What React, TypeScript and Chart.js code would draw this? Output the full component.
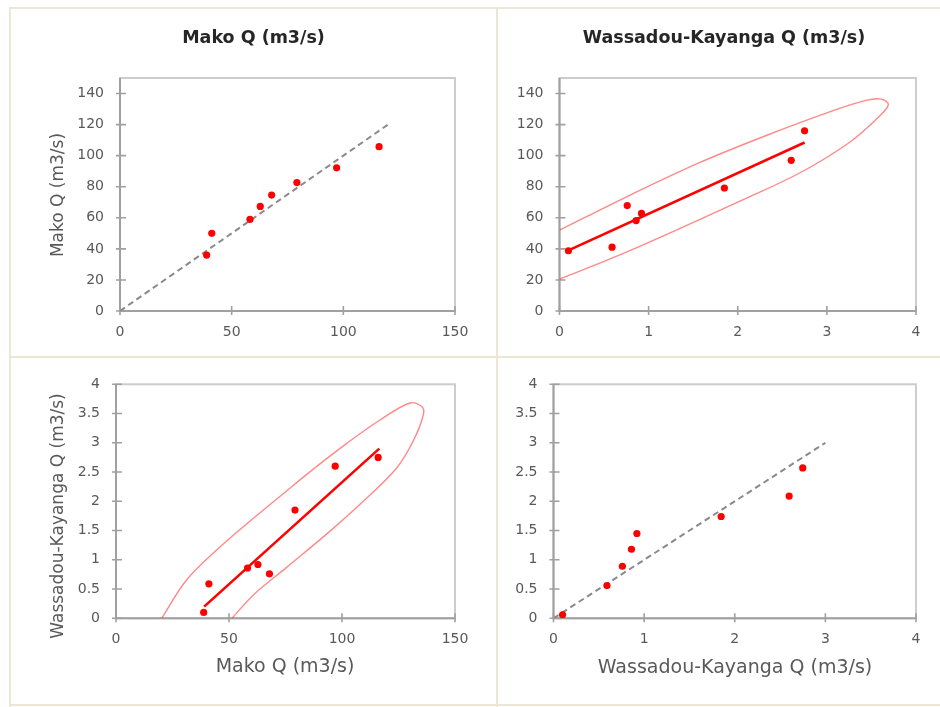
import React, { useEffect, useRef } from 'react';
import { Chart, registerables } from 'chart.js';
Chart.register(...registerables);

// ---- data ----
const makoObs = [38.8, 41.1, 58.2, 62.8, 67.9, 79.2, 97, 116];
const wassadouObs = [0.1, 0.59, 0.86, 0.92, 0.76, 1.85, 2.6, 2.75];
const makoEst = [36, 50, 59, 67.3, 74.6, 82.7, 92.2, 105.8];
const wassadouEst = [0.06, 0.56, 1.18, 1.45, 0.89, 1.74, 2.09, 2.57];

const makoTicks = [0, 20, 40, 60, 80, 100, 120, 140];
const makoXTicks = [0, 50, 100, 150];
const wassadouTicks = [0, 0.5, 1, 1.5, 2, 2.5, 3, 3.5, 4];
const wassadouXTicks = [0, 1, 2, 3, 4];

const makoOneToOne = [0, 120];
const wassadouOneToOne = [0, 3];

const fitWM_x = [0.1, 2.75];
const fitWM_y = [39, 108.5];
const fitMW_x = [39, 116.5];
const fitMW_y = [0.2, 2.9];

const ellipseWM_x = [0, 0.5, 0.9, 1.57, 2.0, 2.7, 3.26, 3.6, 3.69, 3.61, 3.44, 3.07, 2.32, 1.57, 0.77, 0];
const ellipseWM_y = [20.5, 31.9, 41.6, 58.8, 70.1, 89, 108.8, 126, 133, 136.4, 135.6, 129, 113, 95.5, 74, 52];

const ellipseMW_x = [51.3, 60.8, 75.5, 94.7, 109.4, 124.2, 131.5, 136, 135.3, 130.1, 116.8, 102.1, 87.3, 74, 60.8, 46, 31.3, 20.2];
const ellipseMW_y = [0, 0.4, 0.87, 1.49, 2.0, 2.57, 3.03, 3.48, 3.62, 3.68, 3.39, 2.99, 2.55, 2.13, 1.71, 1.22, 0.66, 0];

const TITLE_MAKO = 'Mako Q (m3/s)';
const TITLE_WASS = 'Wassadou-Kayanga Q (m3/s)';

const zip = (xs: number[], ys: number[]) => xs.map((x, i) => ({ x, y: ys[i] }));

const RED = '#ff0000';
const pointsDs = (xs: number[], ys: number[]) => ({
  data: zip(xs, ys),
  showLine: false,
  pointRadius: 3.6,
  pointBackgroundColor: RED,
  pointBorderColor: RED,
  pointBorderWidth: 0,
});
const dashedDs = (vals: number[]) => ({
  data: zip(vals, vals),
  showLine: true,
  pointRadius: 0,
  borderColor: '#8a8a8a',
  borderWidth: 2,
  borderDash: [6, 4],
});
const fitDs = (xs: number[], ys: number[]) => ({
  data: zip(xs, ys),
  showLine: true,
  pointRadius: 0,
  borderColor: RED,
  borderWidth: 2.6,
});
const ellipseDs = (xs: number[], ys: number[]) => ({
  data: zip(xs, ys),
  showLine: true,
  pointRadius: 0,
  borderColor: 'rgba(255,40,40,0.55)',
  borderWidth: 1.4,
  tension: 0.35,
});

type TextItem = { text: string; x: number; y: number; font: string; color: string; rotate?: boolean };

const titleFont = 'bold 17.5px "DejaVu Sans"';
const xTitleFont = '19px "DejaVu Sans"';
const yTitleFont = '17px "DejaVu Sans"';
const TITLE_COLOR = '#262626';
const AXIS_COLOR = '#595959';

const panels = [
  {
    canvas: { x: 10, y: 7, w: 487, h: 350 },
    plot: { l: 120, r: 455, t: 78, b: 311 },
    x: { min: 0, max: 150, ticks: makoXTicks },
    y: { min: 0, max: 150, ticks: makoTicks },
    datasets: [pointsDs(makoObs, makoEst), dashedDs(makoOneToOne)],
    texts: [
      { text: TITLE_MAKO, x: 253.5, y: 38, font: titleFont, color: TITLE_COLOR },
      { text: TITLE_MAKO, x: 58.5, y: 195, font: yTitleFont, color: AXIS_COLOR, rotate: true },
    ] as TextItem[],
  },
  {
    canvas: { x: 497, y: 7, w: 443, h: 350 },
    plot: { l: 559.5, r: 916, t: 78, b: 311 },
    x: { min: 0, max: 4, ticks: wassadouXTicks },
    y: { min: 0, max: 150, ticks: makoTicks },
    datasets: [pointsDs(wassadouObs, makoObs), fitDs(fitWM_x, fitWM_y), ellipseDs(ellipseWM_x, ellipseWM_y)],
    texts: [{ text: TITLE_WASS, x: 724, y: 38, font: titleFont, color: TITLE_COLOR }] as TextItem[],
  },
  {
    canvas: { x: 10, y: 357, w: 487, h: 350 },
    plot: { l: 116, r: 455, t: 384.3, b: 618.3 },
    x: { min: 0, max: 150, ticks: makoXTicks },
    y: { min: 0, max: 4, ticks: wassadouTicks },
    datasets: [pointsDs(makoObs, wassadouObs), fitDs(fitMW_x, fitMW_y), ellipseDs(ellipseMW_x, ellipseMW_y)],
    texts: [
      { text: TITLE_WASS, x: 58.5, y: 516, font: yTitleFont, color: AXIS_COLOR, rotate: true },
      { text: TITLE_MAKO, x: 285, y: 667.5, font: xTitleFont, color: AXIS_COLOR },
    ] as TextItem[],
  },
  {
    canvas: { x: 497, y: 357, w: 443, h: 350 },
    plot: { l: 553.5, r: 916, t: 384.3, b: 618.3 },
    x: { min: 0, max: 4, ticks: wassadouXTicks },
    y: { min: 0, max: 4, ticks: wassadouTicks },
    datasets: [pointsDs(wassadouObs, wassadouEst), dashedDs(wassadouOneToOne)],
    texts: [{ text: TITLE_WASS, x: 735, y: 668, font: xTitleFont, color: AXIS_COLOR }] as TextItem[],
  },
];

const framePlugin = {
  id: 'frame',
  beforeDatasetsDraw(chart: any) {
    const { ctx, chartArea: a } = chart;
    const xs = chart.scales.x;
    const ys = chart.scales.y;
    ctx.save();
    ctx.lineWidth = 2;
    ctx.strokeStyle = '#cdcdcd';
    ctx.strokeRect(a.left, a.top, a.right - a.left, a.bottom - a.top);
    ctx.strokeStyle = '#a0a0a0';
    ctx.beginPath();
    ctx.moveTo(a.left, a.top);
    ctx.lineTo(a.left, a.bottom);
    ctx.lineTo(a.right, a.bottom);
    ctx.stroke();
    ctx.lineWidth = 1.6;
    ctx.beginPath();
    ys.ticks.forEach((t: any) => {
      const py = ys.getPixelForValue(t.value);
      ctx.moveTo(a.left - 4, py);
      ctx.lineTo(a.left + 6, py);
    });
    xs.ticks.forEach((t: any) => {
      const px = xs.getPixelForValue(t.value);
      ctx.moveTo(px, a.bottom - 5);
      ctx.lineTo(px, a.bottom + 4);
    });
    ctx.stroke();
    ctx.restore();
  },
};

const textPlugin = (texts: TextItem[], ox: number, oy: number) => ({
  id: 'panelTexts',
  afterDraw(chart: any) {
    const ctx = chart.ctx;
    texts.forEach((t) => {
      ctx.save();
      ctx.font = t.font;
      ctx.fillStyle = t.color;
      ctx.textAlign = 'center';
      ctx.textBaseline = 'middle';
      ctx.translate(t.x - ox, t.y - oy);
      if (t.rotate) ctx.rotate(-Math.PI / 2);
      ctx.fillText(t.text, 0, 0);
      ctx.restore();
    });
  },
});

function makeConfig(p: any): any {
  const { canvas: c, plot } = p;
  const left = plot.l - c.x;
  const top = plot.t - c.y;
  const right = c.x + c.w - plot.r;
  const xAxisH = 30;
  const bottom = c.y + c.h - plot.b - xAxisH;
  const tickFont = { family: 'DejaVu Sans', size: 14 };
  return {
    type: 'scatter',
    data: { datasets: p.datasets },
    options: {
      responsive: false,
      animation: false,
      devicePixelRatio: 1,
      layout: { padding: { left: 0, top, right, bottom } },
      plugins: { legend: { display: false }, tooltip: { enabled: false }, title: { display: false } },
      scales: {
        x: {
          type: 'linear',
          position: 'bottom',
          min: p.x.min,
          max: p.x.max,
          afterBuildTicks: (s: any) => {
            s.ticks = p.x.ticks.map((v: number) => ({ value: v }));
          },
          afterFit: (s: any) => {
            s.height = xAxisH;
          },
          grid: { display: false, drawTicks: false },
          border: { display: false },
          ticks: {
            font: tickFont,
            color: AXIS_COLOR,
            padding: 13,
            autoSkip: false,
            maxRotation: 0,
            callback: (v: any) => String(v),
          },
        },
        y: {
          type: 'linear',
          position: 'left',
          min: p.y.min,
          max: p.y.max,
          afterBuildTicks: (s: any) => {
            s.ticks = p.y.ticks.map((v: number) => ({ value: v }));
          },
          afterFit: (s: any) => {
            s.width = left;
          },
          grid: { display: false, drawTicks: false },
          border: { display: false },
          ticks: {
            font: tickFont,
            color: AXIS_COLOR,
            padding: 16,
            autoSkip: false,
            callback: (v: any) => String(v),
          },
        },
      },
    },
    plugins: [framePlugin, textPlugin(p.texts, c.x, c.y)],
  };
}

const LINE = '#ebe6d5';

export default function App() {
  const refs = [useRef<HTMLCanvasElement>(null), useRef<HTMLCanvasElement>(null), useRef<HTMLCanvasElement>(null), useRef<HTMLCanvasElement>(null)];
  useEffect(() => {
    const charts = panels.map((p, i) => new Chart(refs[i].current as HTMLCanvasElement, makeConfig(p)));
    return () => charts.forEach((c) => c.destroy());
  }, []);
  const lines = [
    { left: 10, top: 7, width: 930, height: 2 },
    { left: 10, top: 356, width: 930, height: 2 },
    { left: 10, top: 704, width: 930, height: 2 },
    { left: 9, top: 7, width: 2, height: 700 },
    { left: 496, top: 7, width: 2, height: 700 },
  ];
  return (
    <div style={{ position: 'absolute', left: 0, top: 0, width: 940, height: 707, background: '#ffffff', overflow: 'hidden' }}>
      {lines.map((l, i) => (
        <div key={i} style={{ position: 'absolute', background: LINE, ...l }} />
      ))}
      {panels.map((p, i) => (
        <canvas
          key={i}
          ref={refs[i]}
          width={p.canvas.w}
          height={p.canvas.h}
          style={{ position: 'absolute', left: p.canvas.x, top: p.canvas.y, width: p.canvas.w, height: p.canvas.h }}
        />
      ))}
    </div>
  );
}
